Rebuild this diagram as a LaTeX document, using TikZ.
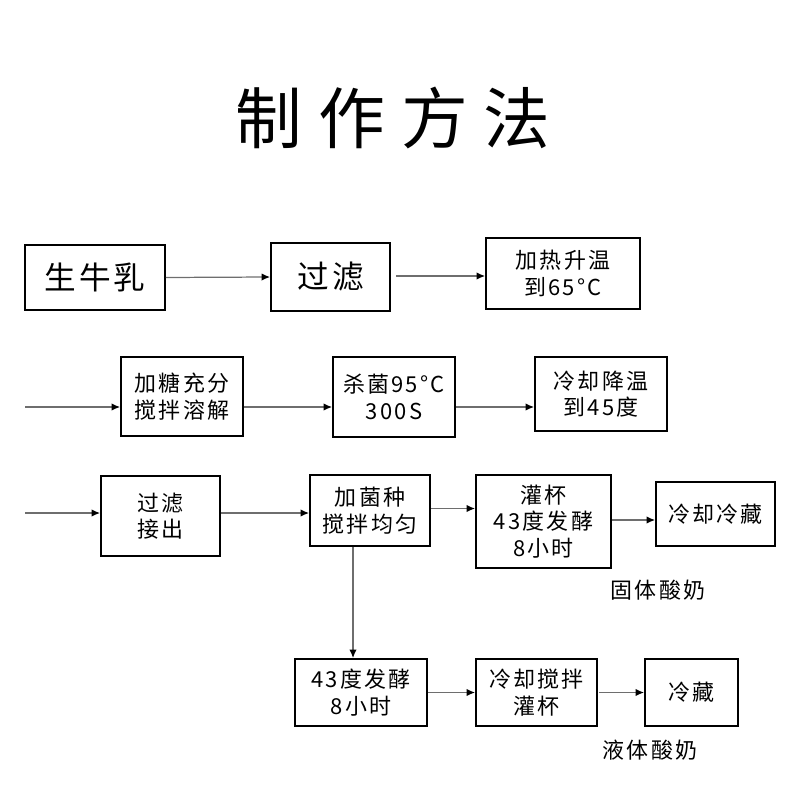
\documentclass[tikz,border=0pt]{standalone}
\usepackage{fontspec}
\setmainfont{Noto Sans CJK SC}
\newfontfamily\cjk[LetterSpace=10]{Noto Sans CJK SC}
\newfontfamily\cjktitle[LetterSpace=24]{Noto Sans CJK SC}
\usepackage{tikz}
\usetikzlibrary{arrows.meta, positioning, calc}
\definecolor{boxLine}{HTML}{000000}
\definecolor{arrowGray}{HTML}{6E6E6E}
% one process box: name, centre x, centre y, width, height, text (all in px)
\newcommand{\StepBox}[6]{
    \node[stepbox, minimum width=#4*0.02cm, minimum height=#5*0.02cm] (#1) at (#2,#3) {#6};
}
\begin{document}
\begin{tikzpicture}[x=0.02cm, y=-0.02cm,
    stepbox/.style={draw=boxLine, line width=1.1pt, rectangle, align=center, inner sep=0pt,
        font={\cjk\fontsize{12.5}{15}\selectfont}},
    flow/.style={draw=arrowGray, line width=0.7pt, -{Latex[length=4.8pt, width=4.2pt, black]}},
    tag/.style={font={\cjk\fontsize{12.5}{15}\selectfont}}]
    \useasboundingbox (0,0) rectangle (800,800);

    % Title
    \node[font={\cjktitle\fontsize{38}{40}\selectfont}] (title) at (393,118) {制作方法};

    % Row 1
    \StepBox{raw}{95}{277.5}{140}{65}{\fontsize{18}{20}\selectfont 生牛乳}
    \StepBox{filtA}{330.5}{277}{119}{68}{\fontsize{18}{20}\selectfont 过滤}
    \StepBox{heat}{563}{273.5}{154}{71}{加热升温\\到65°C}
    \draw[flow] (raw.east) -- (filtA.west);
    \draw[flow] ([xshift=5*0.02cm, yshift=1*0.02cm]filtA.east) -- ([yshift=1*0.02cm]filtA.east -| heat.west);

    % Row 2
    \coordinate (inB) at (25,407);
    \StepBox{sugar}{182}{396.5}{122}{79}{加糖充分\\搅拌溶解}
    \StepBox{steril}{394}{397}{122}{80}{杀菌95°C\\300S}
    \StepBox{coolA}{601}{394}{132}{74}{冷却降温\\到45度}
    \draw[flow] (inB) -- (inB -| sugar.west);
    \draw[flow] (inB -| sugar.east) -- (inB -| steril.west);
    \draw[flow] (inB -| steril.east) -- (inB -| coolA.west);

    % Row 3
    \coordinate (inC) at (25,513);
    \StepBox{filtB}{160.5}{516}{119}{80}{过滤\\接出}
    \StepBox{culture}{370}{510.5}{120}{71}{加菌种\\搅拌均匀}
    \StepBox{cupferm}{543.5}{521.5}{135}{93}{灌杯\\43度发酵\\8小时}
    \StepBox{coldstore}{715.5}{514}{119}{64}{冷却冷藏}
    \draw[flow] (inC) -- (inC -| filtB.west);
    \draw[flow] (inC -| filtB.east) -- (inC -| culture.west);
    \draw[flow] ([yshift=2*0.02cm]culture.east) -- ([yshift=2*0.02cm]culture.east -| cupferm.west);
    \draw[flow] ([yshift=1.5*0.02cm]cupferm.east) -- ([yshift=1.5*0.02cm]cupferm.east -| coldstore.west);
    \node[tag] (solid) at (658,590) {固体酸奶};

    % Row 4
    \StepBox{fermB}{361}{692.5}{132}{67}{43度发酵\\8小时}
    \StepBox{coolstir}{536.5}{692.5}{121}{67}{冷却搅拌\\灌杯}
    \StepBox{store}{691.5}{692.5}{93}{67}{冷藏}
    \draw[flow] ([xshift=-17*0.02cm]culture.south) -- ([xshift=-17*0.02cm]culture.south |- fermB.north);
    \draw[flow] (fermB.east) -- (coolstir.west);
    \draw[flow] ([xshift=1*0.02cm]coolstir.east) -- (store.west);
    \node[tag] (liquid) at (650,750) {液体酸奶};
\end{tikzpicture}
\end{document}
